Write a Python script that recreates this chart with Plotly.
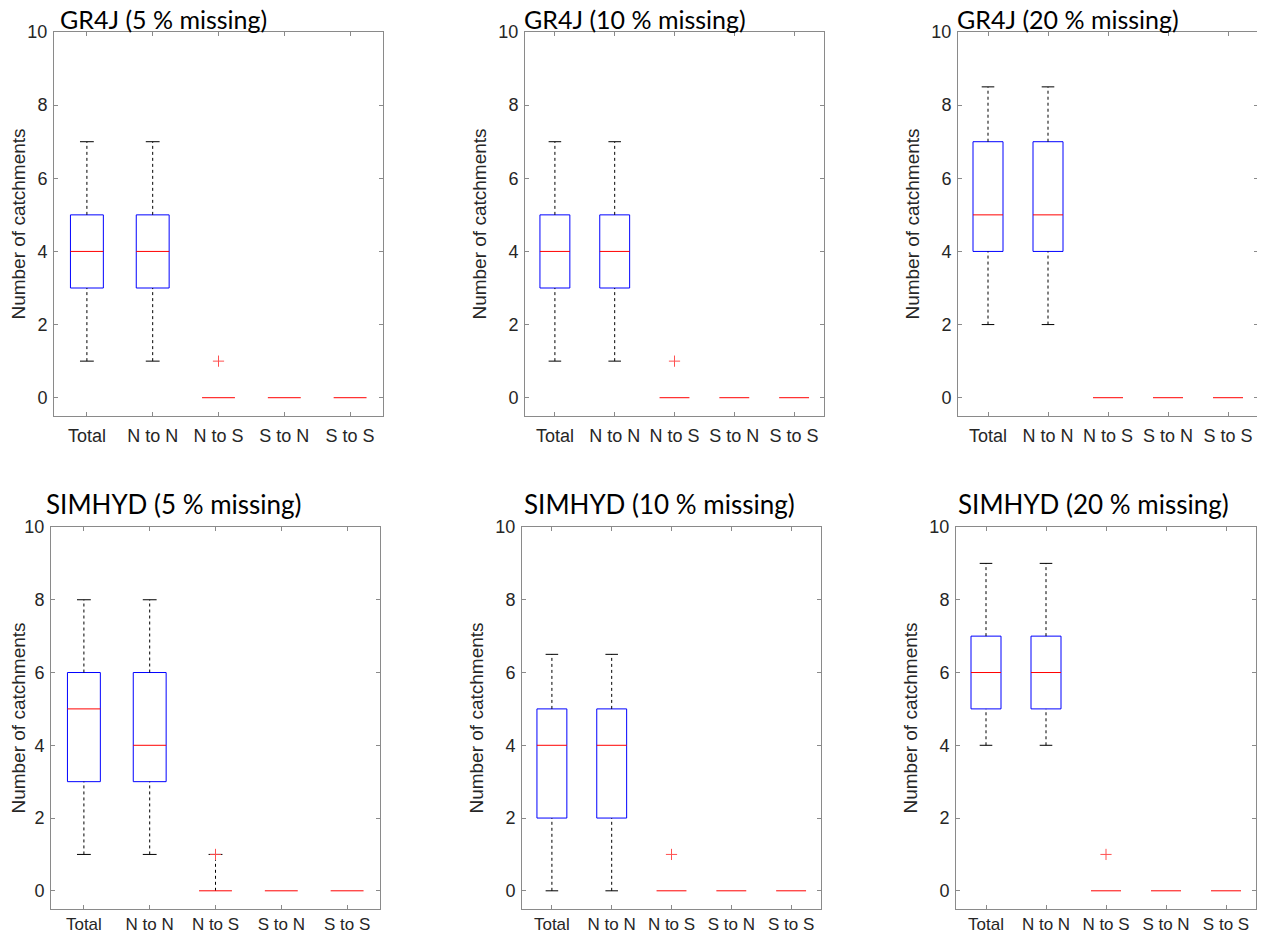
import plotly.graph_objects as go

# categories on the x axis of every panel
categories = ["Total", "N to N", "N to S", "S to N", "S to S"]

panel_titles = [
    "GR4J (5 % missing)",
    "GR4J (10 % missing)",
    "GR4J (20 % missing)",
    "SIMHYD (5 % missing)",
    "SIMHYD (10 % missing)",
    "SIMHYD (20 % missing)",
]

# box statistics, one row per panel, one value per category
lower_whisker = [
    [1, 1, 0, 0, 0],
    [1, 1, 0, 0, 0],
    [2, 2, 0, 0, 0],
    [1, 1, 0, 0, 0],
    [0, 0, 0, 0, 0],
    [4, 4, 0, 0, 0],
]
q1 = [
    [3, 3, 0, 0, 0],
    [3, 3, 0, 0, 0],
    [4, 4, 0, 0, 0],
    [3, 3, 0, 0, 0],
    [2, 2, 0, 0, 0],
    [5, 5, 0, 0, 0],
]
median = [
    [4, 4, 0, 0, 0],
    [4, 4, 0, 0, 0],
    [5, 5, 0, 0, 0],
    [5, 4, 0, 0, 0],
    [4, 4, 0, 0, 0],
    [6, 6, 0, 0, 0],
]
q3 = [
    [5, 5, 0, 0, 0],
    [5, 5, 0, 0, 0],
    [7, 7, 0, 0, 0],
    [6, 6, 0, 0, 0],
    [5, 5, 0, 0, 0],
    [7, 7, 0, 0, 0],
]
upper_whisker = [
    [7, 7, 0, 0, 0],
    [7, 7, 0, 0, 0],
    [8.5, 8.5, 0, 0, 0],
    [8, 8, 1, 0, 0],
    [6.5, 6.5, 0, 0, 0],
    [9, 9, 0, 0, 0],
]
# outliers: (category index, value)
outliers = [
    [(2, 1)],
    [(2, 1)],
    [],
    [(2, 1)],
    [(2, 1)],
    [(2, 1)],
]

# plot-area placement of the six panels, in screen pixels of the 1265x936 page
W, H = 1265, 936
OFF = 8  # the page body margin shifts the figure by this much
panel_px = [
    (54, 383, 32, 416),
    (525, 824, 32, 416),
    (958, 1258, 32, 416),
    (51, 380, 527, 909),
    (522, 821, 527, 909),
    (956, 1256, 527, 909),
]
# left edge and bottom of each panel title, screen pixels
title_px = [(60, 36), (524, 36), (957, 36), (46, 522), (524, 522), (958, 522)]

BOX_HALF = 0.25
CAP_HALF = 0.105
AXIS_GREY = "#8a8a8a"
TEXT_COL = "#262626"
TICK_FONT = dict(family="Liberation Sans, Arial", size=18, color=TEXT_COL)


def px_x(v):
    return (v - OFF) / W


def px_y(v):
    return 1 - (v - OFF) / H


fig = go.Figure()

for p in range(6):
    ax = "" if p == 0 else str(p + 1)
    xref, yref = "x" + ax, "y" + ax

    bx, by = [], []
    wx, wy = [], []
    cx, cy = [], []
    mx, my = [], []
    for i in range(len(categories)):
        pos = i + 1
        # box outline (a flat box is hidden by its median anyway)
        if q3[p][i] > q1[p][i]:
            bx += [pos - BOX_HALF, pos + BOX_HALF, pos + BOX_HALF, pos - BOX_HALF, pos - BOX_HALF, None]
            by += [q1[p][i], q1[p][i], q3[p][i], q3[p][i], q1[p][i], None]
        # whiskers + caps
        if upper_whisker[p][i] > q3[p][i]:
            wx += [pos, pos, None]
            wy += [q3[p][i], upper_whisker[p][i], None]
            cx += [pos - CAP_HALF, pos + CAP_HALF, None]
            cy += [upper_whisker[p][i], upper_whisker[p][i], None]
        if lower_whisker[p][i] < q1[p][i]:
            wx += [pos, pos, None]
            wy += [lower_whisker[p][i], q1[p][i], None]
            cx += [pos - CAP_HALF, pos + CAP_HALF, None]
            cy += [lower_whisker[p][i], lower_whisker[p][i], None]
        # median
        mx += [pos - BOX_HALF, pos + BOX_HALF, None]
        my += [median[p][i], median[p][i], None]

    common = dict(xaxis=xref, yaxis=yref, showlegend=False, hoverinfo="skip")
    fig.add_trace(go.Scatter(x=bx, y=by, mode="lines",
                             line=dict(color="#0000ff", width=1), **common))
    fig.add_trace(go.Scatter(x=wx, y=wy, mode="lines",
                             line=dict(color="black", width=1, dash="dot"), **common))
    fig.add_trace(go.Scatter(x=cx, y=cy, mode="lines",
                             line=dict(color="black", width=1), **common))
    fig.add_trace(go.Scatter(x=mx, y=my, mode="lines",
                             line=dict(color="#ff0000", width=1), **common))
    if outliers[p]:
        fig.add_trace(go.Scatter(
            x=[o[0] + 1 for o in outliers[p]],
            y=[o[1] for o in outliers[p]],
            mode="markers",
            marker=dict(symbol="cross-thin", size=8,
                        line=dict(color="#ff5050", width=1)),
            **common,
        ))

    x0, x1, y0, y1 = panel_px[p]
    bottom_row = p >= 3

    fig.layout["xaxis" + ax] = dict(
        domain=[px_x(x0), px_x(x1)], anchor=yref, range=[0.5, 5.5], automargin=False,
        tickvals=[1, 2, 3, 4, 5], ticktext=categories,
        ticks="inside", ticklen=4, tickcolor=AXIS_GREY,
        ticklabelstandoff=0 if bottom_row else 3,
        showline=True, linecolor=AXIS_GREY, linewidth=1, mirror="ticks",
        showgrid=False, zeroline=False,
        tickfont=dict(TICK_FONT, size=17) if bottom_row else TICK_FONT,
    )
    fig.layout["yaxis" + ax] = dict(
        domain=[px_y(y1), px_y(y0)], anchor=xref, range=[-0.5, 10], automargin=False,
        tickvals=[0, 2, 4, 6, 8, 10],
        ticks="inside", ticklen=4, tickcolor=AXIS_GREY, ticklabelstandoff=2,
        showline=True, linecolor=AXIS_GREY, linewidth=1, mirror="ticks",
        showgrid=False, zeroline=False, tickfont=TICK_FONT,
        title=dict(text="Number of catchments", standoff=6,
                   font=dict(family="Liberation Sans, Arial", size=19, color=TEXT_COL)),
    )

    # panel title, left aligned above the plot area
    tx, ty = title_px[p]
    fig.add_annotation(
        text=panel_titles[p], xref="paper", yref="paper",
        x=px_x(tx - 2), y=px_y(ty), xanchor="left", yanchor="bottom",
        showarrow=False,
        font=dict(family="Lato, Open Sans", size=25 if not bottom_row else 26, color="black"),
    )

fig.update_layout(
    width=W, height=H,
    margin=dict(l=0, r=0, t=0, b=0),
    paper_bgcolor="white", plot_bgcolor="white",
)

fig.write_html("out.html")
